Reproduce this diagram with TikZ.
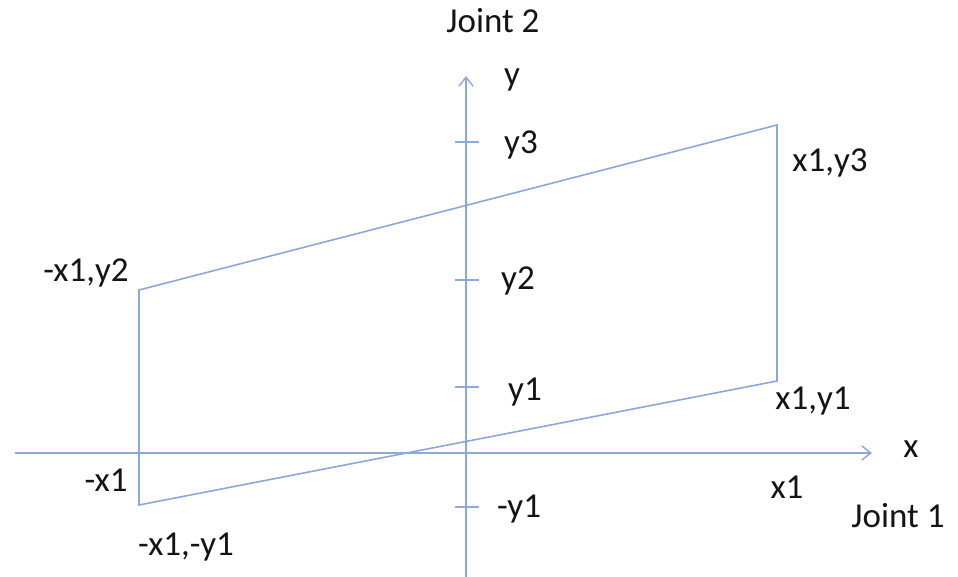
\documentclass[tikz,border=0pt]{standalone}
\usepackage{fontspec}
\setmainfont{Carlito}
\usetikzlibrary{arrows.meta}
\definecolor{axblue}{RGB}{140,167,220}
\definecolor{txt}{RGB}{20,20,20}
\tikzset{
  ln/.style={draw=axblue,line width=1.6pt},
  axis/.style={ln,-{Straight Barb[length=9pt,width=14pt,line width=1.4pt]}},
  lbl/.style={anchor=base,inner sep=0pt,text=txt,font=\fontsize{35}{42}\selectfont},
}
\begin{document}
\begin{tikzpicture}[x=1pt,y=-1pt]
\useasboundingbox (0,0) rectangle (958,577);
% axes
\coordinate (xs) at (15,453);
\coordinate (xe) at (872,453);
\coordinate (ys) at (466,577);
\coordinate (ye) at (466,76);
\draw[axis] (xs) -- (xe);
\draw[axis] (ys) -- (ye);
% ticks
\foreach \n/\yy in {t3/142,t2/280,t1/387,tm/507}{
  \coordinate (\n a) at (455,\yy);
  \coordinate (\n b) at (479,\yy);
  \draw[ln] (\n a) -- (\n b);
}
% quadrilateral
\coordinate (A) at (139,290);
\coordinate (B) at (777,125);
\coordinate (C) at (777,381);
\coordinate (D) at (139,505);
\draw[ln] (A) -- (B) -- (C) -- (D) -- cycle;
% labels
\node[lbl] (j2) at (493,33) {Joint 2};
\node[lbl] (ly) at (512,86) {y};
\node[lbl] (ly3) at (521,154) {y3};
\node[lbl] (ly2) at (518,290) {y2};
\node[lbl] (ly1) at (525,400) {y1};
\node[lbl] (lmy1) at (519,517) {-y1};
\node[lbl] (lx1y3) at (830,172) {x1,y3};
\node[lbl] (lmx1y2) at (86,281) {-x1,y2};
\node[lbl] (lx1y1) at (813,409) {x1,y1};
\node[lbl] (lx) at (911,457) {x};
\node[lbl] (lx1) at (787,498) {x1};
\node[lbl] (j1) at (898,527) {Joint 1};
\node[lbl] (lmx1) at (106,491) {-x1};
\node[lbl] (lmx1my1) at (186,555) {-x1,-y1};
\end{tikzpicture}
\end{document}
